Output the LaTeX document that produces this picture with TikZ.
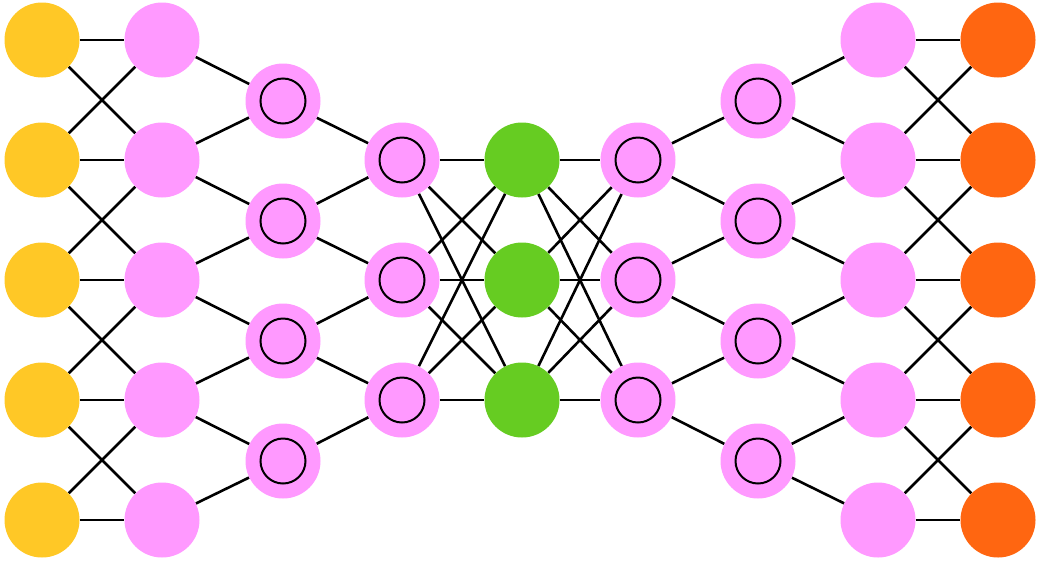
\documentclass[tikz,border=0pt]{standalone}
\usetikzlibrary{backgrounds}
\definecolor{cyel}{RGB}{255,200,38}
\definecolor{cpink}{RGB}{255,153,255}
\definecolor{cgreen}{RGB}{102,204,34}
\definecolor{corange}{RGB}{255,102,17}
\tikzset{
  neuron/.style={circle, minimum size=75pt, inner sep=0pt, draw=none},
  inn/.style={neuron, fill=cpink, path picture={\draw[line width=2pt] (path picture bounding box.center) circle[radius=22.5pt];}},
  wire/.style={line width=2.6pt, black}
}
\begin{document}
\begin{tikzpicture}[x=1pt,y=-1pt]
\useasboundingbox (0,0) rectangle (1043,563);
% columns
\foreach \i in {0,...,4} {
  \node[neuron, fill=cyel] (a\i) at (42,40+120*\i) {};
  \node[neuron, fill=cpink] (b\i) at (162,40+120*\i) {};
  \node[neuron, fill=cpink] (h\i) at (878,40+120*\i) {};
  \node[neuron, fill=corange] (k\i) at (998,40+120*\i) {};
}
\foreach \i in {0,...,3} {
  \node[inn] (c\i) at (283,101+120*\i) {};
  \node[inn] (g\i) at (758,101+120*\i) {};
}
\foreach \i in {0,...,2} {
  \node[inn] (d\i) at (402,160+120*\i) {};
  \node[neuron, fill=cgreen] (e\i) at (522,160+120*\i) {};
  \node[inn] (f\i) at (638,160+120*\i) {};
}
\begin{scope}[on background layer]
\foreach \i in {0,...,4} {
  \draw[wire] (a\i) -- (b\i);
  \draw[wire] (h\i) -- (k\i);
}
\foreach \i/\j in {0/1,1/2,2/3,3/4} {
  \draw[wire] (a\i) -- (b\j);
  \draw[wire] (a\j) -- (b\i);
  \draw[wire] (h\i) -- (k\j);
  \draw[wire] (h\j) -- (k\i);
}
\foreach \i/\j in {0/1,1/2,2/3,3/4} {
  \draw[wire] (c\i) -- (b\i);
  \draw[wire] (c\i) -- (b\j);
  \draw[wire] (g\i) -- (h\i);
  \draw[wire] (g\i) -- (h\j);
}
\foreach \i/\j in {0/1,1/2,2/3} {
  \draw[wire] (d\i) -- (c\i);
  \draw[wire] (d\i) -- (c\j);
  \draw[wire] (f\i) -- (g\i);
  \draw[wire] (f\i) -- (g\j);
}
\foreach \i in {0,...,2} {
  \foreach \j in {0,...,2} {
    \draw[wire] (d\i) -- (e\j);
    \draw[wire] (e\i) -- (f\j);
  }
}
\end{scope}
\end{tikzpicture}
\end{document}
